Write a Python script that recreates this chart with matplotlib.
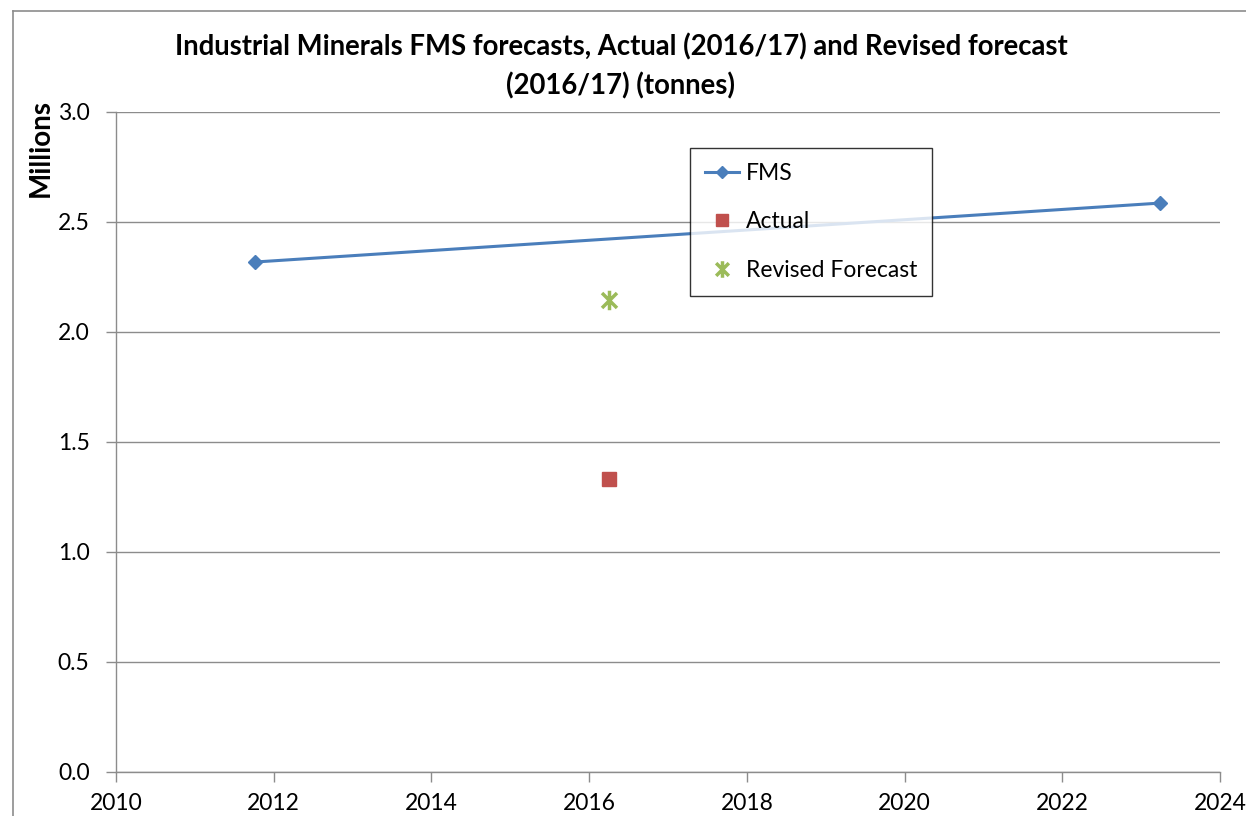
import numpy as np
import matplotlib.pyplot as plt
from matplotlib.path import Path
from matplotlib.lines import Line2D

# ---------------- data ----------------
fms_x = [2011.76, 2023.24]
fms_y = [2.318, 2.586]
actual_x = [2016.25]
actual_y = [1.332]
revised_x = [2016.25]
revised_y = [2.145]

x_ticks = [2010, 2012, 2014, 2016, 2018, 2020, 2022, 2024]
y_ticks = [0.0, 0.5, 1.0, 1.5, 2.0, 2.5, 3.0]

title = "Industrial Minerals FMS forecasts, Actual (2016/17) and Revised forecast\n(2016/17) (tonnes)"

# ---------------- style ----------------
plt.rcParams['font.family'] = ['Lato', 'DejaVu Sans']
blue = '#4A7EBB'
red = '#C0504D'
green = '#9BBB59'
grey = '#8C8C8C'

W, H = 1246, 816
fig = plt.figure(figsize=(W/100, H/100), dpi=100)
# plot area in pixels: left 116, right 1220, top 112, bottom 772
ax = fig.add_axes([116/W, 1-772/H, (1220-116)/W, (772-112)/H])

# excel-like star marker: an x with a vertical bar
star = Path([(-1, -1), (1, 1), (-1, 1), (1, -1), (0, -1.3), (0, 1.3)],
            [Path.MOVETO, Path.LINETO, Path.MOVETO, Path.LINETO, Path.MOVETO, Path.LINETO])

ax.plot(fms_x, fms_y, '-', color=blue, lw=2.2, marker='D', ms=7.5,
        mfc=blue, mec=blue, label='FMS', zorder=3)
ax.plot(actual_x, actual_y, linestyle='none', marker='s', ms=9.5,
        color=red, label='Actual', zorder=3)
ax.plot(revised_x, revised_y, linestyle='none', marker=star, ms=14,
        mew=2.5, color=green, mfc='none', label='Revised Forecast', zorder=3)

ax.set_xlim(2010, 2024)
ax.set_ylim(0, 3)
ax.set_xticks(x_ticks)
ax.set_yticks(y_ticks)
ax.set_yticklabels(['%.1f' % v for v in y_ticks])
ax.yaxis.grid(True, color=grey, lw=1)
ax.set_axisbelow(True)

for s in ['top', 'right']:
    ax.spines[s].set_visible(False)
for s in ['left', 'bottom']:
    ax.spines[s].set_color(grey)
    ax.spines[s].set_linewidth(1)
ax.tick_params(axis='both', colors=grey, labelcolor='black', labelsize=16.5,
               length=7, width=1, direction='out')
ax.tick_params(axis='x', pad=8)
ax.tick_params(axis='y', pad=12)

leg = ax.legend(loc='upper left', bbox_to_anchor=((690-116)/(1220-116), (772-148)/(772-112)),
                frameon=True, fancybox=False, fontsize=16.5, labelspacing=1.2,
                handlelength=1.5, handletextpad=0.3, borderpad=0.65,
                borderaxespad=0, edgecolor='black', markerscale=0.85)
leg.get_frame().set_linewidth(1)

fig.text(621/W, 1-33/H, title, ha='center', va='top', fontsize=19.8,
         fontweight='bold', linespacing=1.55)
fig.text(41/W, 1-148/H, 'Millions', rotation=90, ha='center', va='center',
         fontsize=20, fontweight='bold')

# chart area border (left and top edges visible in the reference)
fig.add_artist(Line2D([13/W, 13/W], [0, 1-11/H], color=grey, lw=1.2))
fig.add_artist(Line2D([13/W, 1], [1-11/H, 1-11/H], color=grey, lw=1.2))

fig.savefig('out.png', dpi=100)
